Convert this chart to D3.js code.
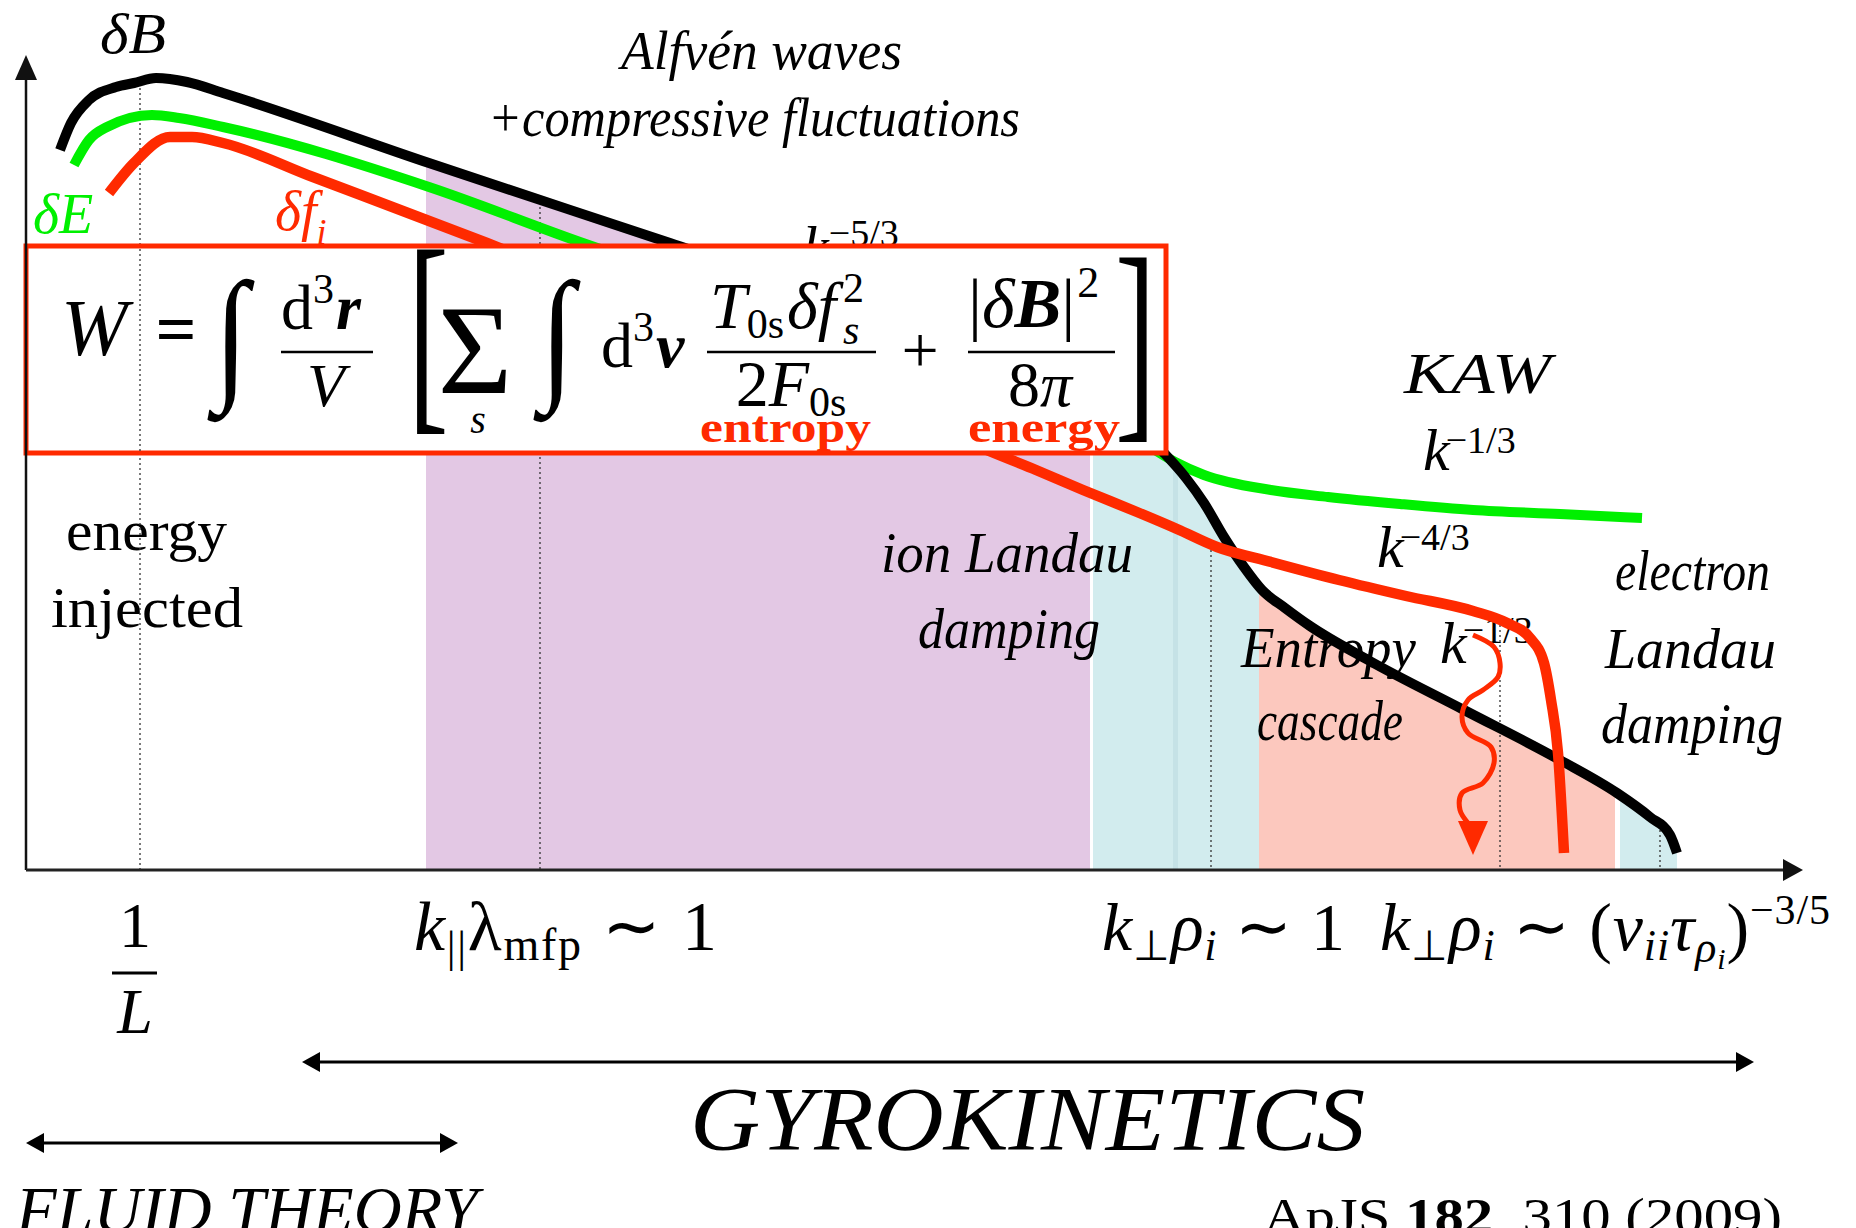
<!DOCTYPE html>
<html>
<head>
<meta charset="utf-8">
<script src="https://cdn.jsdelivr.net/npm/d3@7"></script>
<style>
  html, body { margin: 0; padding: 0; background: #fff; }
  svg { display: block; }
  text { font-family: "Liberation Serif", "Times New Roman", serif; }
</style>
</head>
<body>
<svg id="chart" width="1856" height="1228"></svg>
<script>
// ---- spectra: x = log10 k (decades from 1/L), y = log10 of spectral power ----
const deltaB_logk = [-0.80, -0.69, -0.51, -0.24, -0.06, 0.16, 0.47, 0.83, 2.89, 5.30, 7.60, 8.60, 9.40, 9.90, 10.24, 10.46, 10.64, 10.84, 11.04, 11.22, 11.45, 11.70, 12.28, 13.24, 14.20, 14.77, 15.10, 15.30, 15.37];
const deltaB_logE = [ 7.20,  7.47,  7.70,  7.83,  7.87, 7.92, 7.88, 7.77, 7.07, 6.27, 5.50, 5.13, 4.80, 4.50,  4.17,  3.92,  3.67,  3.33,  3.03,  2.80,  2.62,  2.44,  2.10,  1.60,  1.10,  0.77,  0.53,  0.35,  0.17];

const deltaE_logk = [-0.66, -0.51, -0.33, 0.12, 0.39, 0.83, 2.89, 4.40, 6.60, 8.60, 9.60, 10.10, 10.35, 10.64, 11.31, 11.88, 12.60, 13.33, 14.20, 15.02];
const deltaE_logE = [ 7.05,  7.30,  7.43, 7.55, 7.52, 7.43, 6.83, 6.28, 5.55, 4.90, 4.52,  4.23,  4.08,  3.95,  3.80,  3.73,  3.66,  3.60,  3.56,  3.52];

const deltaF_logk = [-0.31, -0.06, 0.30, 0.52, 0.83, 1.73, 3.47, 5.60, 7.40, 8.42, 8.96, 9.43, 9.97, 10.37, 10.77, 11.31, 11.99, 12.66, 13.33, 13.67, 13.90, 14.04, 14.11, 14.18, 14.24];
const deltaF_logE = [ 6.77,  7.07, 7.33, 7.33, 7.27, 6.93, 6.27, 5.43, 4.70, 4.22, 4.00, 3.80, 3.58,  3.41,  3.23,  3.08,  2.90,  2.74,  2.59,  2.47,  2.32,  2.07,  1.70,  1.17,  0.17];

// entropy cascade to collisional scales (wavy arrow)
const cascade_logk = [13.33, 13.54, 13.60, 13.58, 13.43, 13.28, 13.22, 13.28, 13.51, 13.54, 13.43, 13.22, 13.20, 13.28];
const cascade_logE = [ 2.35,  2.23,  2.07,  1.93,  1.80,  1.70,  1.53,  1.37,  1.23,  1.07,  0.87,  0.77,  0.60,  0.47];
const cascadeTip = [13.33, 0.15];

// shaded dissipation ranges in log k
const rangeNames = ["ion Landau damping", "transition", "transition band", "entropy cascade", "electron Landau damping"];
const rangeStart = [2.86, 9.53, 10.33, 11.19, 14.80];
const rangeEnd   = [9.50, 11.19, 10.38, 14.75, 15.40];

// characteristic wavenumbers (dotted guides) and the level where each guide starts
const guideLogk = [0.00, 4.00, 10.71, 13.60, 15.20];
const guideTop  = [7.87, 6.63, 3.25, 2.55, 0.40];

// theory regimes along the k axis
const regimeNames = ["GYROKINETICS", "FLUID THEORY"];
const regimeFrom  = [1.62, -1.14];
const regimeTo    = [16.14, 3.18];

// ---- setup ----
const svg = d3.select("#chart");
const x = d3.scaleLinear().domain([-1.14, 16.63]).range([26, 1803]);
const y = d3.scaleLinear().domain([0, 8.15]).range([870, 55]);

const RED = "#ff2a00", GREEN = "#00f000", BLACK = "#000";
const rangeFill = ["#e3c8e4", "#d2ecee", "#c5e2e6", "#fcc8be", "#d2ecee"];

const zip = (a, b) => a.map((v, i) => [v, b[i]]);
const B = zip(deltaB_logk, deltaB_logE);
const E = zip(deltaE_logk, deltaE_logE);
const F = zip(deltaF_logk, deltaF_logE);
const C = zip(cascade_logk, cascade_logE);

const line = d3.line().x(d => x(d[0])).y(d => y(d[1])).curve(d3.curveMonotoneX);
const area = d3.area().x(d => x(d[0])).y0(y(0)).y1(d => y(d[1])).curve(d3.curveMonotoneX);

const defs = svg.append("defs");
rangeNames.forEach((n, i) => {
  defs.append("clipPath").attr("id", "range" + i)
    .append("rect")
    .attr("x", x(rangeStart[i])).attr("y", 0)
    .attr("width", x(rangeEnd[i]) - x(rangeStart[i]))
    .attr("height", y(0));
});

// ---- shaded ranges under the magnetic spectrum ----
const gRanges = svg.append("g");
rangeNames.forEach((n, i) => {
  gRanges.append("path").datum(B)
    .attr("d", area)
    .attr("fill", rangeFill[i])
    .attr("clip-path", `url(#range${i})`);
});

// ---- helper for text ----
function label(g, px, py, str, o = {}) {
  const t = g.append("text")
    .attr("x", px).attr("y", py)
    .attr("font-size", o.size || 58)
    .attr("font-style", o.italic ? "italic" : "normal")
    .attr("font-weight", o.bold ? "bold" : "normal")
    .attr("fill", o.fill || "#000")
    .attr("text-anchor", o.anchor || "start");
  if (o.family) t.attr("font-family", o.family);
  if (str !== null) t.text(str);
  if (o.len) t.attr("textLength", o.len).attr("lengthAdjust", o.adjust || "spacingAndGlyphs");
  return t;
}
function ts(t, str, o = {}) {
  const s = t.append("tspan").text(str);
  if (o.size) s.attr("font-size", o.size);
  if (o.italic) s.attr("font-style", "italic");
  if (o.upright) s.attr("font-style", "normal");
  if (o.bold) s.attr("font-weight", "bold");
  if (o.dy) s.attr("dy", o.dy);
  if (o.dx) s.attr("dx", o.dx);
  if (o.family) s.attr("font-family", o.family);
  return s;
}

// ---- annotations inside the plot ----
const gLab = svg.append("g");
label(gLab, 100, 53, "δB", { italic: true, size: 58, len: 66 });
label(gLab, 621, 69, "Alfvén waves", { italic: true, size: 54, len: 281 });
label(gLab, 488, 136, "+compressive fluctuations", { italic: true, size: 54, len: 532 });
{
  const t = label(gLab, 803, 266, null, { size: 58 });
  ts(t, "k", { italic: true });
  ts(t, "−5/3", { size: 38, dy: -20 });
}
label(gLab, 33, 233, "δE", { italic: true, size: 56, fill: GREEN });
{
  const t = label(gLab, 275, 230, null, { size: 56, italic: true, fill: RED });
  ts(t, "δf");
  ts(t, "i", { size: 36, dy: 14 });
}
label(gLab, 66, 550, "energy", { size: 58, len: 161 });
label(gLab, 51, 627, "injected", { size: 58, len: 192 });
label(gLab, 881, 572, "ion Landau", { italic: true, size: 58, len: 252 });
label(gLab, 918, 648, "damping", { italic: true, size: 58, len: 182 });
label(gLab, 1404, 393, "KAW", { italic: true, size: 58, len: 147 });
{
  const t = label(gLab, 1423, 470, null, { size: 60 });
  ts(t, "k", { italic: true });
  ts(t, "−1/3", { size: 38, dy: -17, dx: -4 });
}
{
  const t = label(gLab, 1377, 567, null, { size: 60 });
  ts(t, "k", { italic: true });
  ts(t, "−4/3", { size: 38, dy: -17, dx: -4 });
}
label(gLab, 1615, 590, "electron", { italic: true, size: 58, len: 155 });
label(gLab, 1605, 668, "Landau", { italic: true, size: 58, len: 171 });
label(gLab, 1601, 743, "damping", { italic: true, size: 58, len: 182 });
label(gLab, 1241, 667, "Entropy", { italic: true, size: 58, len: 175 });
{
  const t = label(gLab, 1440, 663, null, { size: 60 });
  ts(t, "k", { italic: true });
  ts(t, "−1/3", { size: 38, dy: -20, dx: -4 });
}
label(gLab, 1257, 740, "cascade", { italic: true, size: 58, len: 146 });

// ---- dotted guides at characteristic scales ----
const gGuides = svg.append("g");
guideLogk.forEach((k, i) => {
  gGuides.append("line")
    .attr("x1", x(k)).attr("x2", x(k))
    .attr("y1", y(guideTop[i])).attr("y2", y(0))
    .attr("stroke", "#333").attr("stroke-width", 1.3)
    .attr("stroke-dasharray", "2,3");
});

// ---- spectra ----
const gCurves = svg.append("g").attr("fill", "none").attr("stroke-linecap", "butt");
gCurves.append("path").datum(E).attr("d", line).attr("stroke", GREEN).attr("stroke-width", 10);
gCurves.append("path").datum(B).attr("d", line).attr("stroke", BLACK).attr("stroke-width", 10);
gCurves.append("path").datum(F).attr("d", line).attr("stroke", RED).attr("stroke-width", 10.5);
gCurves.append("path").datum(C)
  .attr("d", d3.line().x(d => x(d[0])).y(d => y(d[1])).curve(d3.curveCatmullRom))
  .attr("stroke", RED).attr("stroke-width", 5);
// arrowhead of the cascade
{
  const last = C[C.length - 1];
  const hw = 15;
  const tx = x(cascadeTip[0]), ty = y(cascadeTip[1]);
  const by = y(last[1]) - 2;
  svg.append("path")
    .attr("d", `M${tx - hw},${by}L${tx + hw},${by}L${tx},${ty}Z`)
    .attr("fill", RED);
}

// ---- free-energy formula box ----
const gBox = svg.append("g");
gBox.append("rect")
  .attr("x", 26).attr("y", 246).attr("width", 1140).attr("height", 207)
  .attr("fill", "#fff").attr("stroke", RED).attr("stroke-width", 5);

// guide at 1/L runs over the box
gBox.append("line")
  .attr("x1", x(guideLogk[0])).attr("x2", x(guideLogk[0]))
  .attr("y1", 249).attr("y2", 451)
  .attr("stroke", "#333").attr("stroke-width", 1.3).attr("stroke-dasharray", "2,3");

const gF = gBox.append("g");
label(gF, 61, 355, "W", { italic: true, size: 80 });
label(gF, 176, 353, "=", { size: 72, bold: true, anchor: "middle" });
// integrals
[231, 557].forEach(cx => {
  gF.append("text").text("∫")
    .attr("font-family", "DejaVu Serif").attr("font-size", 96)
    .attr("text-anchor", "middle")
    .attr("transform", `translate(${cx},383) scale(1.3,1.52)`);
});
{
  const t = label(gF, 281, 329, null, { size: 64 });
  ts(t, "d");
  ts(t, "3", { size: 42, dy: -26 });
  ts(t, "r", { italic: true, bold: true, dy: 26, dx: 2 });
}
gF.append("line").attr("x1", 281).attr("x2", 373).attr("y1", 352).attr("y2", 352).attr("stroke", "#000").attr("stroke-width", 2.6);
label(gF, 326, 406, "V", { italic: true, size: 62, anchor: "middle" });
gF.append("text").text("[").attr("font-size", 222)
  .attr("transform", "translate(408,404) scale(0.55,1)");
label(gF, 475, 393, "Σ", { size: 128, anchor: "middle" });
label(gF, 478, 433, "s", { italic: true, size: 40, anchor: "middle" });
{
  const t = label(gF, 601, 367, null, { size: 64 });
  ts(t, "d");
  ts(t, "3", { size: 42, dy: -26 });
  ts(t, "v", { italic: true, bold: true, dy: 26, dx: 2 });
}
{
  const t = label(gF, 710, 328, null, { size: 66 });
  ts(t, "T", { italic: true });
  ts(t, "0s", { size: 42, dy: 10 });
  ts(t, "δf", { italic: true, dy: -10, dx: 3 });
  ts(t, "2", { size: 42, dy: -26, dx: 7 });
  ts(t, "s", { size: 42, italic: true, dx: -21, dy: 42 });
}
gF.append("line").attr("x1", 707).attr("x2", 876).attr("y1", 352).attr("y2", 352).attr("stroke", "#000").attr("stroke-width", 2.6);
{
  const t = label(gF, 791, 406, null, { size: 66, anchor: "middle" });
  ts(t, "2");
  ts(t, "F", { italic: true });
  ts(t, "0s", { size: 42, dy: 10 });
}
label(gF, 920, 372, "+", { size: 66, anchor: "middle" });
{
  const t = label(gF, 968, 327, null, { size: 70 });
  ts(t, "|");
  ts(t, "δ", { italic: true });
  ts(t, "B", { italic: true, bold: true });
  ts(t, "|");
  ts(t, "2", { size: 44, dy: -30, dx: 2 });
}
gF.append("line").attr("x1", 968).attr("x2", 1115).attr("y1", 352).attr("y2", 352).attr("stroke", "#000").attr("stroke-width", 2.6);
{
  const t = label(gF, 1040, 406, null, { size: 64, anchor: "middle" });
  ts(t, "8");
  ts(t, "π", { italic: true });
}
gF.append("text").text("]").attr("font-size", 222)
  .attr("transform", "translate(1115,412) scale(0.55,1)");
label(gF, 700, 442, "entropy", { bold: true, size: 44, fill: RED, len: 171 });
label(gF, 968, 442, "energy", { bold: true, size: 44, fill: RED, len: 152 });

// ---- axes ----
const gAx = svg.append("g");
gAx.append("line").attr("x1", x(-1.14)).attr("x2", x(-1.14)).attr("y1", y(0)).attr("y2", y(7.9))
  .attr("stroke", "#111").attr("stroke-width", 2.5);
gAx.append("path")
  .attr("d", `M${x(-1.14) - 11},${y(7.9)}L${x(-1.14) + 11},${y(7.9)}L${x(-1.14)},${y(8.15)}Z`)
  .attr("fill", "#111");
gAx.append("line").attr("x1", x(-1.14)).attr("x2", x(16.43)).attr("y1", y(0)).attr("y2", y(0))
  .attr("stroke", "#222").attr("stroke-width", 3);
gAx.append("path")
  .attr("d", `M${x(16.43)},${y(0) - 11}L${x(16.43)},${y(0) + 11}L${x(16.63)},${y(0)}Z`)
  .attr("fill", "#111");

// ---- wavenumber markers under the axis ----
const gBot = svg.append("g");
label(gBot, x(guideLogk[0]) - 5, 947, "1", { size: 64, anchor: "middle" });
gBot.append("line").attr("x1", x(guideLogk[0]) - 28).attr("x2", x(guideLogk[0]) + 17)
  .attr("y1", 973).attr("y2", 973).attr("stroke", "#000").attr("stroke-width", 2.8);
label(gBot, x(guideLogk[0]) - 5, 1033, "L", { italic: true, size: 64, anchor: "middle" });
{
  const t = label(gBot, 414, 950, null, { size: 70, len: 303, adjust: "spacing" });
  ts(t, "k", { italic: true });
  ts(t, "||", { size: 44, dy: 12 });
  ts(t, "λ", { dy: -12 });
  ts(t, "mfp", { size: 46, dy: 10 });
  ts(t, " ∼ 1", { dy: -10 });
}
{
  const t = label(gBot, 1102, 950, null, { size: 68, len: 243, adjust: "spacing" });
  ts(t, "k", { italic: true });
  ts(t, "⊥", { size: 42, dy: 10 });
  ts(t, "ρ", { italic: true, dy: -10 });
  ts(t, "i", { size: 44, italic: true, dy: 10 });
  ts(t, " ∼ 1", { dy: -10 });
}
{
  const t = label(gBot, 1380, 950, null, { size: 68, len: 450, adjust: "spacing" });
  ts(t, "k", { italic: true });
  ts(t, "⊥", { size: 42, dy: 10 });
  ts(t, "ρ", { italic: true, dy: -10 });
  ts(t, "i", { size: 44, italic: true, dy: 10 });
  ts(t, " ∼ (", { dy: -10 });
  ts(t, "ν", { italic: true });
  ts(t, "ii", { size: 44, italic: true, dy: 10 });
  ts(t, "τ", { italic: true, dy: -10 });
  ts(t, "ρ", { size: 44, italic: true, dy: 12 });
  ts(t, "i", { size: 30, italic: true, dy: 7 });
  ts(t, ")", { dy: -19 });
  ts(t, "−3/5", { size: 42, dy: -26 });
}

// ---- regime arrows ----
const regimeY = [1062, 1143];
regimeNames.forEach((n, i) => {
  const x0 = x(regimeFrom[i]), x1 = x(regimeTo[i]), yy = regimeY[i];
  gBot.append("line").attr("x1", x0 + 10).attr("x2", x1 - 10).attr("y1", yy).attr("y2", yy)
    .attr("stroke", "#000").attr("stroke-width", 3);
  gBot.append("path").attr("d", `M${x0},${yy}L${x0 + 18},${yy - 10}L${x0 + 18},${yy + 10}Z`).attr("fill", "#000");
  gBot.append("path").attr("d", `M${x1},${yy}L${x1 - 18},${yy - 10}L${x1 - 18},${yy + 10}Z`).attr("fill", "#000");
});
label(gBot, 690, 1150, regimeNames[0], { italic: true, size: 90, len: 675 });
label(gBot, 16, 1232, regimeNames[1], { italic: true, size: 66, len: 462 });
{
  const t = label(gBot, 1263, 1233, null, { size: 50, family: "Liberation Mono", len: 519, adjust: "spacingAndGlyphs" });
  ts(t, "ApJS ");
  ts(t, "182", { bold: true });
  ts(t, ", 310 (2009)");
}
</script>
</body>
</html>
